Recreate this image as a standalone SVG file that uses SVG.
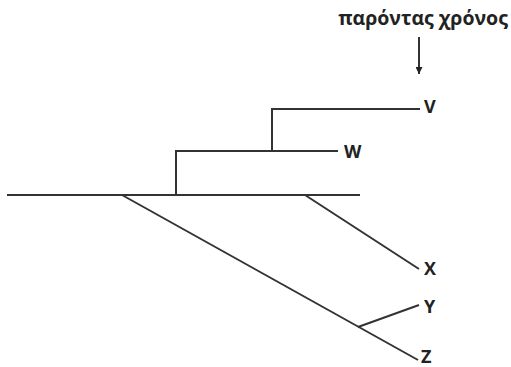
<svg xmlns="http://www.w3.org/2000/svg" width="511" height="367" viewBox="0 0 511 367">
  <style>
    .edge { stroke: #333; stroke-width: 2; fill: none; stroke-linecap: butt; }
    .lbl { font-family: "Open Sans", "Liberation Sans", sans-serif; font-weight: bold; font-size: 18px; fill: #222; }
    .title { font-size: 19.5px; }
  </style>
  <defs>
    <marker id="arrow" viewBox="0 0 10 10" refX="10" refY="5" markerWidth="9" markerHeight="7" markerUnits="userSpaceOnUse" orient="auto">
      <path d="M0,0 L10,5 L0,10 z" fill="#222"/>
    </marker>
  </defs>
  <rect width="511" height="367" fill="#fff"/>
  <g id="connectors">
    <!-- time axis -->
    <path class="edge" d="M7,195 H360"/>
    <!-- W branch -->
    <path class="edge" d="M176,195 V151 H338"/>
    <!-- V branch -->
    <path class="edge" d="M272,151 V109 H420"/>
    <!-- X branch -->
    <path class="edge" d="M305,195 L419,269"/>
    <!-- Z branch -->
    <path class="edge" d="M122,195 L418,360"/>
    <!-- Y branch -->
    <path class="edge" d="M358,327 L419,305"/>
    <!-- present-time pointer -->
    <path class="edge" d="M419,37 V74" stroke-width="1.5" marker-end="url(#arrow)"/>
  </g>
  <g id="present">
    <text class="lbl title" x="423" y="25" text-anchor="middle">παρόντας χρόνος</text>
  </g>
  <g id="V"><text class="lbl" x="424" y="113">V</text></g>
  <g id="W"><text class="lbl" x="344" y="158">W</text></g>
  <g id="X"><text class="lbl" x="424" y="275">X</text></g>
  <g id="Y"><text class="lbl" x="424" y="313">Y</text></g>
  <g id="Z"><text class="lbl" x="421" y="363">Z</text></g>
</svg>
